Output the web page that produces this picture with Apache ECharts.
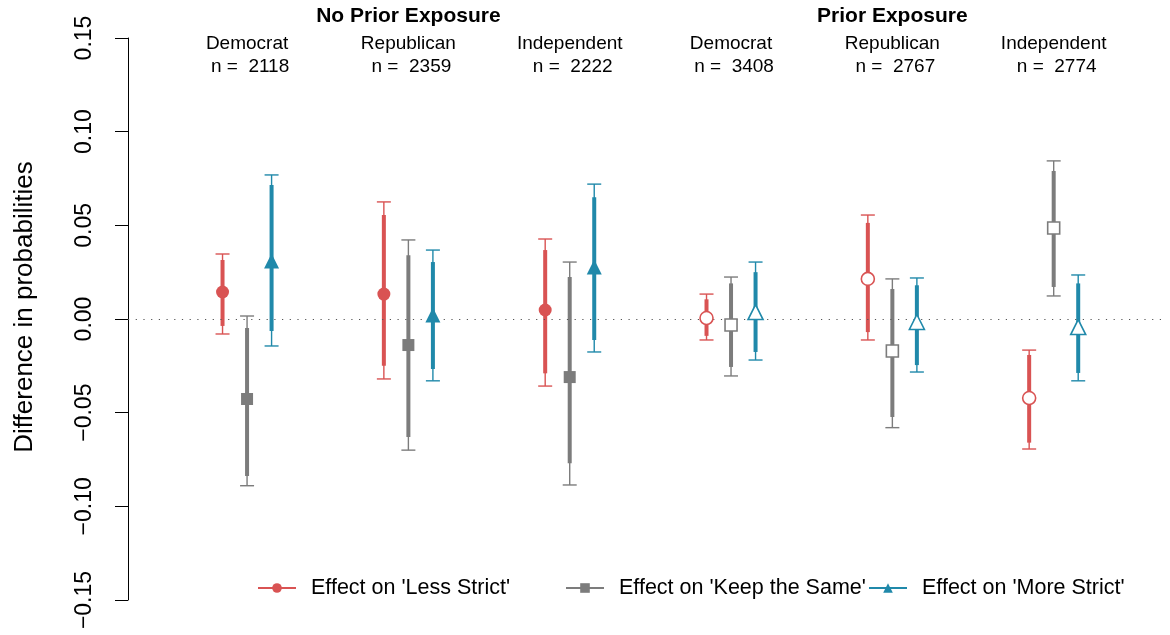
<!DOCTYPE html>
<html>
<head>
<meta charset="utf-8">
<script src="https://cdn.jsdelivr.net/npm/echarts@6/dist/echarts.min.js"></script>
<style>
  html, body { margin: 0; padding: 0; background: #fff; }
  #chart { width: 1170px; height: 635px; }
</style>
</head>
<body>
<div id="chart"></div>
<script>
// groups (x categories)
const groups = ['Democrat', 'Republican', 'Independent', 'Democrat', 'Republican', 'Independent'];
const groupN = [2118, 2359, 2222, 3408, 2767, 2774];
const exposure = ['No Prior Exposure', 'No Prior Exposure', 'No Prior Exposure',
                  'Prior Exposure', 'Prior Exposure', 'Prior Exposure'];
const outcomes = ["Effect on 'Less Strict'", "Effect on 'Keep the Same'", "Effect on 'More Strict'"];

// point estimates, one value per group
const lessEst = [0.0144, 0.0133, 0.0048, 0.0005, 0.0214, -0.0422];
const sameEst = [-0.0427, -0.0139, -0.031, -0.0032, -0.0171, 0.0486];
const moreEst = [0.031, 0.0021, 0.0278, 0.0037, -0.0016, -0.0043];

// 95% intervals [low, high]
const less95 = [[-0.0080, 0.0347], [-0.032, 0.0625], [-0.0358, 0.0427], [-0.0112, 0.0133], [-0.0112, 0.0555], [-0.0694, -0.0166]];
const same95 = [[-0.089, 0.0016], [-0.070, 0.0422], [-0.0886, 0.0304], [-0.0304, 0.0224], [-0.058, 0.0214], [0.0123, 0.0844]];
const more95 = [[-0.0144, 0.0769], [-0.033, 0.0368], [-0.0176, 0.072], [-0.0219, 0.0304], [-0.0283, 0.0219], [-0.033, 0.0235]];

// 90% intervals [low, high]
const less90 = [[-0.0037, 0.0315], [-0.025, 0.0555], [-0.029, 0.0368], [-0.009, 0.0105], [-0.007, 0.0513], [-0.066, -0.0192]];
const same90 = [[-0.0838, -0.0048], [-0.063, 0.034], [-0.077, 0.0224], [-0.0256, 0.019], [-0.0523, 0.016], [0.0171, 0.079]];
const more90 = [[-0.0064, 0.0715], [-0.0267, 0.0304], [-0.0112, 0.065], [-0.0176, 0.025], [-0.0246, 0.018], [-0.0288, 0.019]];

const yTicks = [-0.15, -0.10, -0.05, 0.00, 0.05, 0.10, 0.15];

const colors = ['#D95353', '#7C7C7C', '#2089AA'];
const symbols = ['circle', 'rect', 'triangle'];
const symbolSizes = [13, 12, 15];
const offsets = [-0.152, 0, 0.152];
const font = 'Liberation Sans, Arial, sans-serif';

const est = [lessEst, sameEst, moreEst];
const ci95 = [less95, same95, more95];
const ci90 = [less90, same90, more90];

const chart = echarts.init(document.getElementById('chart'));

const series = [];
outcomes.forEach((name, k) => {
  const color = colors[k];
  // error bars
  series.push({
    type: 'custom',
    name: name + ' ci',
    z: 2,
    silent: true,
    data: groups.map((g, i) => [i + 1 + offsets[k], ci95[k][i][0], ci95[k][i][1], ci90[k][i][0], ci90[k][i][1]]),
    encode: { x: 0, y: [1, 2] },
    renderItem: (params, api) => {
      const x = api.value(0);
      const lo = api.coord([x, api.value(1)]);
      const hi = api.coord([x, api.value(2)]);
      const lo9 = api.coord([x, api.value(3)]);
      const hi9 = api.coord([x, api.value(4)]);
      const cap = 7;
      const thin = { stroke: color, lineWidth: 1.4 };
      return {
        type: 'group',
        children: [
          { type: 'line', shape: { x1: lo[0], y1: lo[1], x2: hi[0], y2: hi[1] }, style: thin },
          { type: 'line', shape: { x1: lo[0] - cap, y1: lo[1], x2: lo[0] + cap, y2: lo[1] }, style: thin },
          { type: 'line', shape: { x1: hi[0] - cap, y1: hi[1], x2: hi[0] + cap, y2: hi[1] }, style: thin },
          { type: 'line', shape: { x1: lo9[0], y1: lo9[1], x2: hi9[0], y2: hi9[1] }, style: { stroke: color, lineWidth: 4 } }
        ]
      };
    }
  });
  // point estimates: filled for no prior exposure, hollow for prior exposure
  series.push({
    type: 'scatter',
    name: name + ' est',
    z: 5,
    symbol: symbols[k],
    symbolSize: symbolSizes[k],
    data: groups.map((g, i) => ({
      value: [i + 1 + offsets[k], est[k][i]],
      itemStyle: exposure[i] === 'Prior Exposure'
        ? { color: '#fff', borderColor: color, borderWidth: 1.6, opacity: 1 }
        : { color: color, opacity: 1 }
    }))
  });
  // legend entry
  series.push({
    type: 'line',
    name: name,
    data: [],
    symbol: symbols[k],
    symbolSize: symbolSizes[k] - 4,
    itemStyle: { color: color },
    lineStyle: { color: color, width: 1.5 }
  });
});

// zero reference line
series.push({
  type: 'line',
  data: [],
  silent: true,
  markLine: {
    symbol: 'none',
    silent: true,
    label: { show: false },
    lineStyle: { color: '#555', width: 1.2, type: [1.2, 6.5] },
    data: [{ yAxis: 0 }]
  }
});

const legendLeft = [252, 560, 863];

const option = {
  animation: false,
  backgroundColor: '#fff',
  textStyle: { fontFamily: font },
  grid: { left: 128, right: 5, top: 38, bottom: 35, outerBoundsMode: 'none', containLabel: false },
  xAxis: {
    type: 'value',
    min: 0.262,
    max: 6.69,
    show: false
  },
  yAxis: {
    type: 'value',
    min: yTicks[0],
    max: yTicks[yTicks.length - 1],
    interval: 0.05,
    name: 'Difference in probabilities',
    nameLocation: 'middle',
    nameGap: 90,
    nameTextStyle: { fontSize: 26, color: '#000', padding: [0, 0, 0, 24] },
    axisLine: { show: true, lineStyle: { color: '#000', width: 1 } },
    axisTick: { show: true, length: 13, lineStyle: { color: '#000' } },
    splitLine: { show: false },
    axisLabel: {
      rotate: 90,
      margin: 32,
      fontSize: 23,
      color: '#000',
      formatter: v => (v < -1e-9 ? '\u2212' : '') + Math.abs(v).toFixed(2)
    }
  },
  legend: outcomes.map((name, k) => ({
    data: [name],
    left: legendLeft[k],
    top: 572,
    itemWidth: 38,
    itemHeight: 12,
    selectedMode: false,
    textStyle: { fontSize: 21.5, color: '#000', padding: [0, 0, 0, 10] }
  })),
  series: series
};

chart.setOption(option);

// headers above the groups
const graphics = [];
groups.forEach((g, i) => {
  const px = chart.convertToPixel({ gridIndex: 0 }, [i + 1, 0])[0];
  graphics.push({
    type: 'text', x: px, y: 44,
    style: { text: g, fontSize: 19, fill: '#000', align: 'center', verticalAlign: 'middle', fontFamily: font }
  });
  graphics.push({
    type: 'text', x: px + 3, y: 67,
    style: { text: 'n =  ' + groupN[i], fontSize: 19, fill: '#000', align: 'center', verticalAlign: 'middle', fontFamily: font }
  });
});
[...new Set(exposure)].forEach(label => {
  const idx = exposure.indexOf(label);
  const px = chart.convertToPixel({ gridIndex: 0 }, [idx + 2, 0])[0];
  graphics.push({
    type: 'text', x: px, y: 16,
    style: { text: label, fontSize: 21, fontWeight: 'bold', fill: '#000', align: 'center', verticalAlign: 'middle', fontFamily: font }
  });
});
chart.setOption({ graphic: graphics });
</script>
</body>
</html>
